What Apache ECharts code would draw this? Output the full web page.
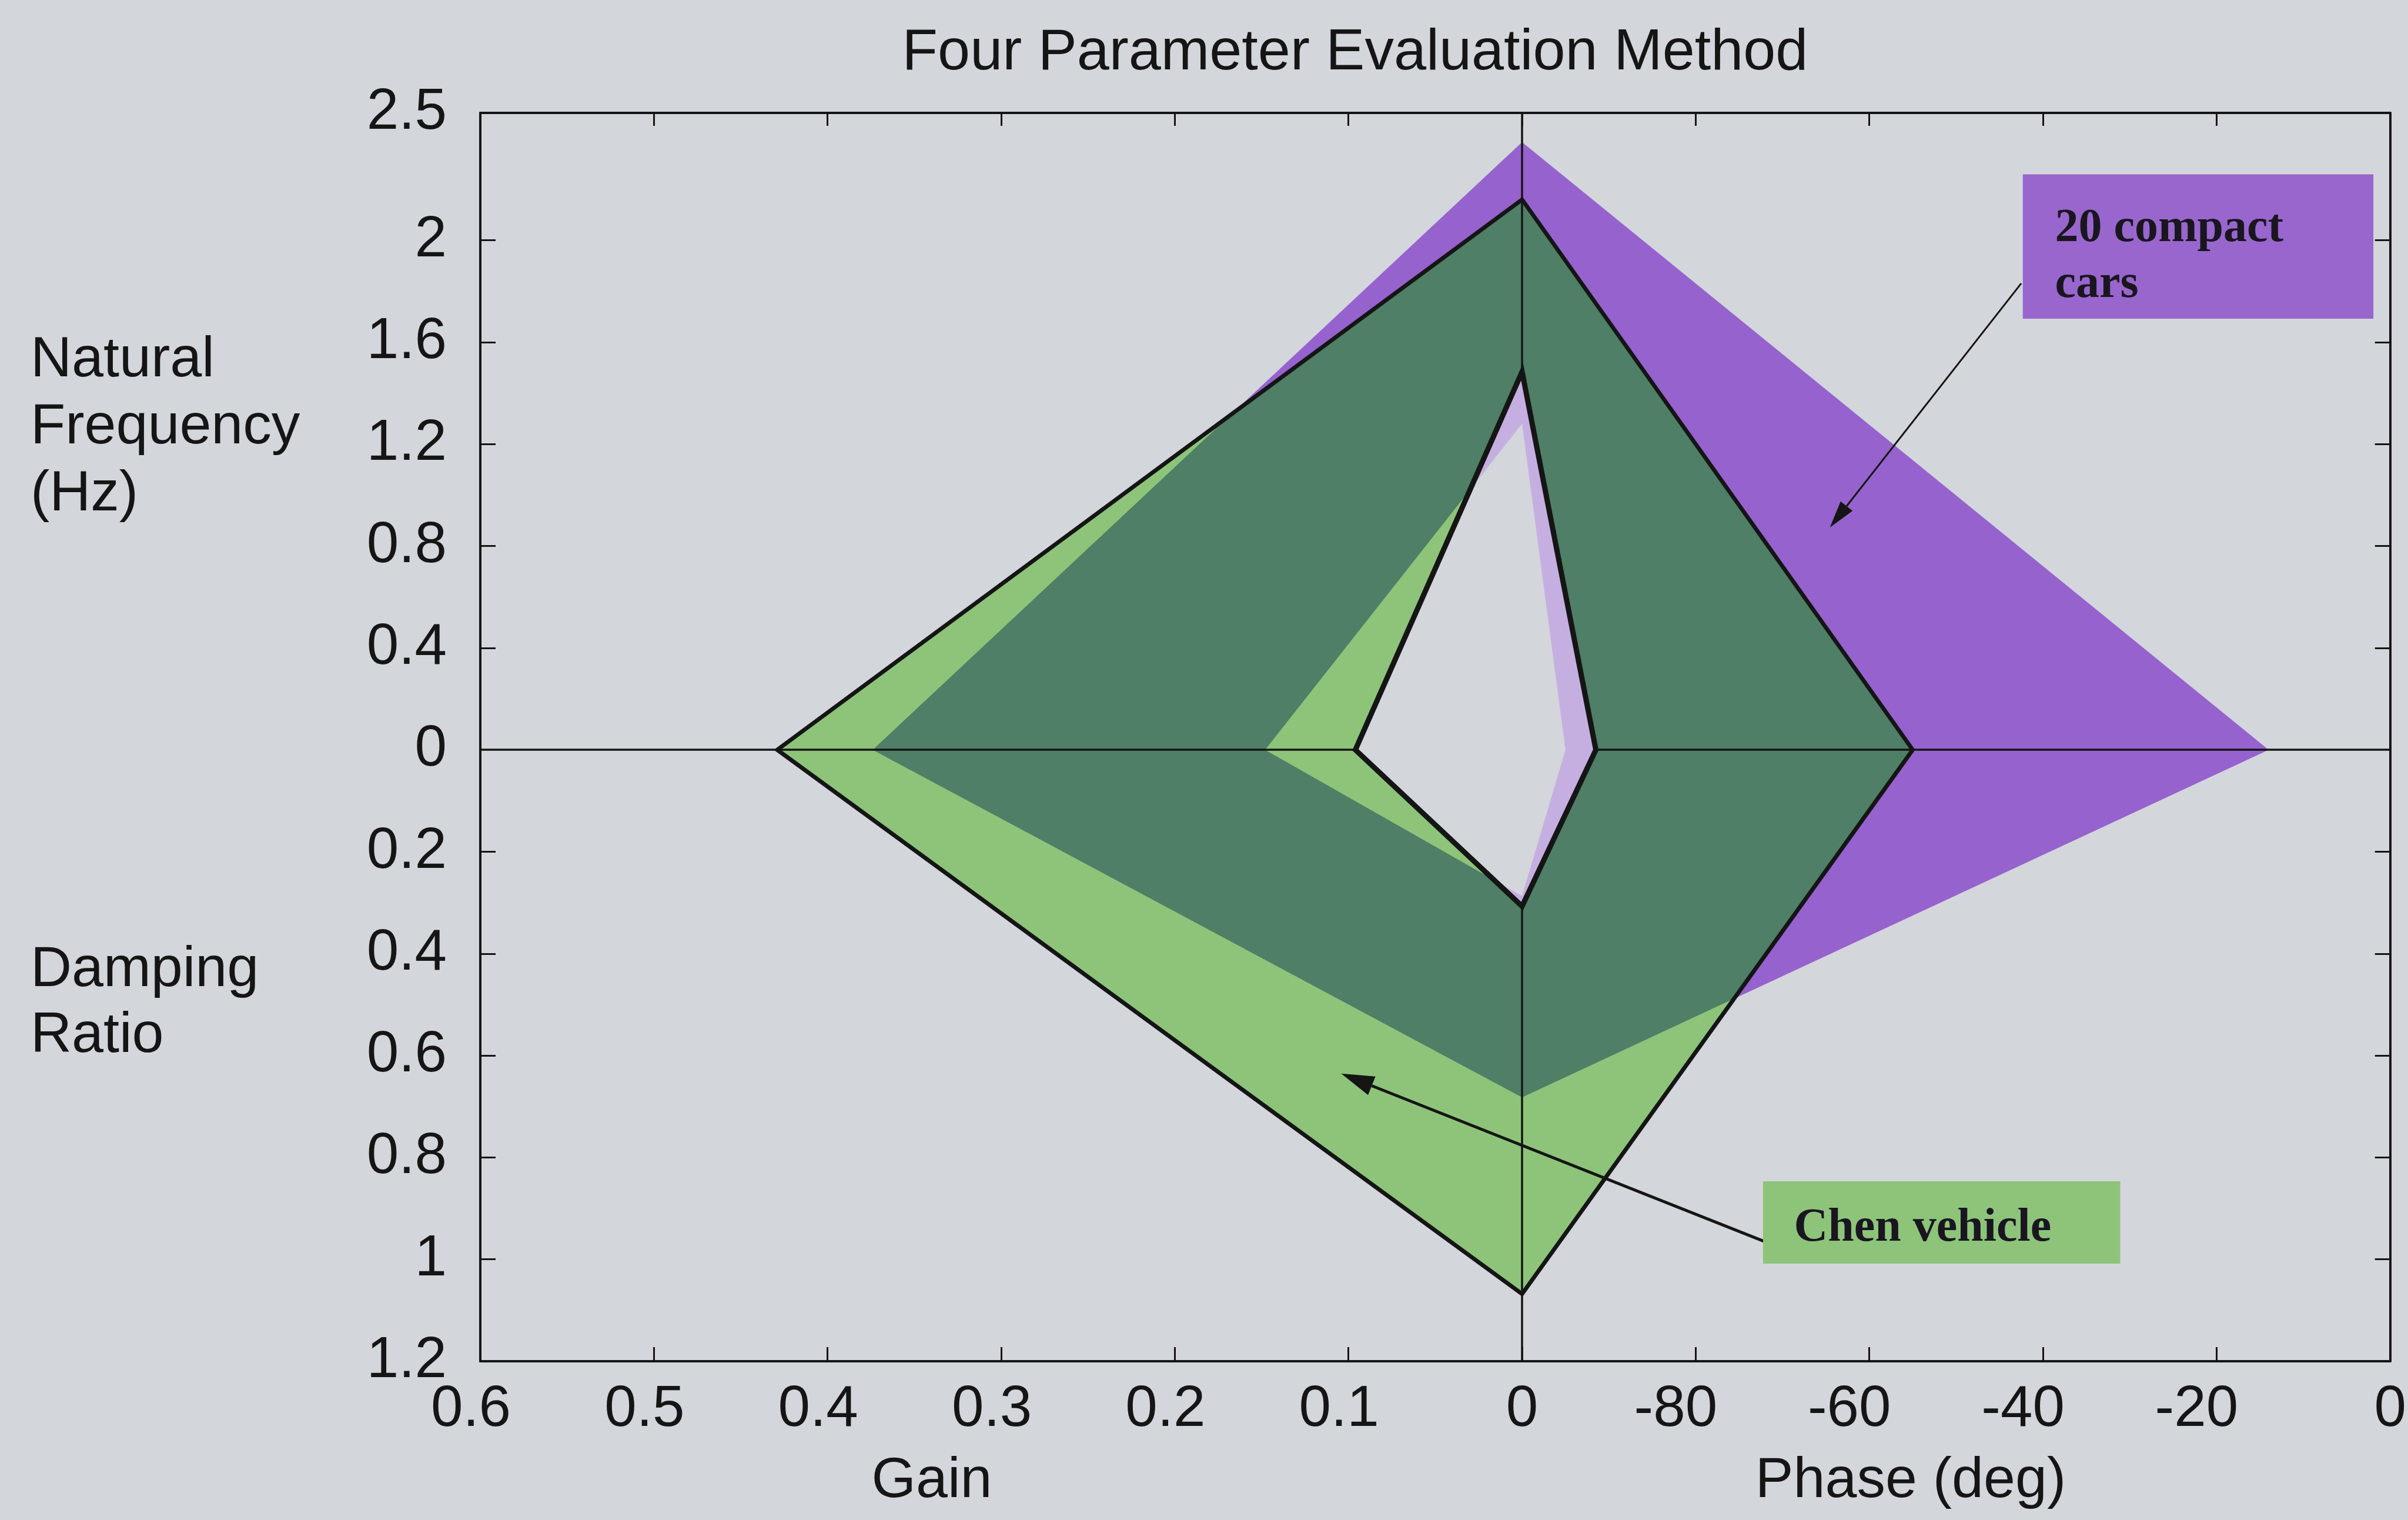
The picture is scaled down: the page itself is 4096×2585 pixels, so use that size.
<!DOCTYPE html>
<html>
<head>
<meta charset="utf-8">
<title>Four Parameter Evaluation Method</title>
<script src="https://cdn.jsdelivr.net/npm/echarts@6.0.0/dist/echarts.min.js"></script>
<style>
html, body { margin: 0; padding: 0; background: #D3D6DB; }
#fourParamDiv { width: 4096px; height: 2585px; }
</style>
</head>
<body>
<div id="fourParamDiv"></div>
<script>
// one diamond per outline: gain (left), natural frequency (top), phase (right), damping (bottom)
var shapeNames = ['compact cars outer', 'compact cars inner', 'Chen vehicle outer', 'Chen vehicle inner'];
var gainValues = [0.374, 0.148, 0.429, 0.096];
var freqValues = [2.385, 1.28, 2.16, 1.484];
var phaseValues = [-14, -95, -55, -91.5];
var dampingValues = [0.682, 0.287, 1.068, 0.307];

// tick labels
var gainTicks = [0.6, 0.5, 0.4, 0.3, 0.2, 0.1, 0];
var phaseTicks = [-80, -60, -40, -20, 0];
var freqTicks = [0, 0.4, 0.8, 1.2, 1.6, 2, 2.5];
var dampingTicks = [0.2, 0.4, 0.6, 0.8, 1, 1.2];

var bgColor = '#D3D6DB';
var purple = '#9662CE';
var lightGreen = '#8DC47A';
var darkGreen = '#4F7F66';
var lavender = '#C5AFE0';
var ink = '#151515';
var sans = '"Liberation Sans", Arial, sans-serif';

// the chart has four half-axes sharing one plane
function gainToX(g) { return -g * 10; }
function phaseToX(p) { return (p + 100) / 20; }
function freqToY(f) { return f; }
function dampToY(d) { return -2 * d; }

var xLabelMap = {};
gainTicks.forEach(function(g) {
	xLabelMap[gainToX(g).toFixed(2)] = { text: String(g), kind: g === 0 ? 'z' : 'g' };
});
phaseTicks.forEach(function(p) {
	xLabelMap[phaseToX(p).toFixed(2)] = { text: String(p), kind: p === 0 ? 'z' : 'p' };
});
var yLabelMap = {};
freqTicks.forEach(function(f) { yLabelMap[freqToY(f).toFixed(2)] = String(f); });
dampingTicks.forEach(function(d) { yLabelMap[dampToY(d).toFixed(2)] = String(d); });

var xLabelValues = Object.keys(xLabelMap).map(Number);
var yLabelValues = Object.keys(yLabelMap).map(Number);
var yTickValues = yLabelValues.filter(function(v) { return v !== 0 && v !== 2.5 && v !== -2.4; });

function diamond(i) {
	return {
		r : phaseToX(phaseValues[i]),
		t : freqToY(freqValues[i]),
		l : gainToX(gainValues[i]),
		b : dampToY(dampingValues[i])
	};
}

function diamondPoints(d) {
	return [[d.r, 0], [0, d.t], [d.l, 0], [0, d.b]];
}

// crossing of x/a1 + y/b1 = 1 and x/a2 + y/b2 = 1 inside one quadrant
function cross(a1, b1, a2, b2) {
	if ((Math.abs(a1) - Math.abs(a2)) * (Math.abs(b1) - Math.abs(b2)) >= 0) {
		return null;
	}
	var p1 = 1 / a1, q1 = 1 / b1, p2 = 1 / a2, q2 = 1 / b2;
	var det = p1 * q2 - p2 * q1;
	return [(q2 - q1) / det, (p1 - p2) / det];
}

function nearer(a, b) { return Math.abs(a) < Math.abs(b) ? a : b; }

function intersect(A, B) {
	var pts = [];
	function push(p) { if (p) pts.push(p); }
	push([nearer(A.r, B.r), 0]);
	push(cross(A.r, A.t, B.r, B.t));
	push([0, nearer(A.t, B.t)]);
	push(cross(A.l, A.t, B.l, B.t));
	push([nearer(A.l, B.l), 0]);
	push(cross(A.l, A.b, B.l, B.b));
	push([0, nearer(A.b, B.b)]);
	push(cross(A.r, A.b, B.r, B.b));
	return pts;
}

function fillSeries(name, points, color, z) {
	return {
		type : 'custom',
		name : name,
		z : z,
		silent : true,
		data : [[0, 0]],
		renderItem : function(params, api) {
			return {
				type : 'polygon',
				shape : { points : points.map(function(p) { return api.coord(p); }) },
				style : { fill : color }
			};
		}
	};
}

function arrow(p0, p1, headLen, headW, width) {
	var dx = p1[0] - p0[0], dy = p1[1] - p0[1];
	var len = Math.sqrt(dx * dx + dy * dy);
	var ux = dx / len, uy = dy / len;
	var bx = p1[0] - ux * headLen, by = p1[1] - uy * headLen;
	var nx = -uy * headW / 2, ny = ux * headW / 2;
	return [{
		type : 'polyline',
		shape : { points : [p0, [bx, by]] },
		style : { stroke : ink, lineWidth : width, fill : null }
	}, {
		type : 'polygon',
		shape : { points : [p1, [bx + nx, by + ny], [bx - nx, by - ny]] },
		style : { fill : ink }
	}];
}

var compactOuter = diamond(0);
var compactInner = diamond(1);
var chenOuter = diamond(2);
var chenInner = diamond(3);

// annotation boxes (plot units)
var notes = {
	compactBox : [[2.884, 2.259], [4.903, 1.692]],
	compactText : [[3.069, 2.045, '20 compact'], [3.069, 1.825, 'cars']],
	compactArrow : [[2.875, 1.831], [1.773, 0.873]],
	chenBox : [[1.388, -1.694], [3.445, -2.017]],
	chenText : [1.566, -1.880, 'Chen vehicle'],
	chenArrow : [[1.392, -1.929], [-1.042, -1.271]]
};

var serifFont = 'bold 80px "Liberation Serif", "DejaVu Serif", serif';

function boxRect(api, box, color) {
	var a = api.coord(box[0]), b = api.coord(box[1]);
	return {
		type : 'rect',
		shape : { x : Math.min(a[0], b[0]), y : Math.min(a[1], b[1]), width : Math.abs(b[0] - a[0]), height : Math.abs(b[1] - a[1]) },
		style : { fill : color }
	};
}

function noteText(api, t) {
	var p = api.coord([t[0], t[1]]);
	return {
		type : 'text',
		x : p[0],
		y : p[1],
		style : { text : t[2], font : serifFont, fill : '#1a1620', textAlign : 'left', textVerticalAlign : 'middle' }
	};
}

var series = [
	fillSeries('20 compact cars', diamondPoints(compactOuter), purple, 1),
	fillSeries('Chen vehicle', diamondPoints(chenOuter), lightGreen, 2),
	fillSeries('overlap', intersect(compactOuter, chenOuter), darkGreen, 3),
	fillSeries('compact inner', diamondPoints(compactInner), lightGreen, 4),
	fillSeries('Chen inner', diamondPoints(chenInner), lavender, 5),
	fillSeries('hole', intersect(compactInner, chenInner), bgColor, 6),
	{
		type : 'custom',
		name : 'outlines',
		z : 8,
		silent : true,
		data : [[0, 0]],
		renderItem : function(params, api) {
			var outer = diamondPoints(chenOuter).map(function(p) { return api.coord(p); });
			var inner = diamondPoints(chenInner).map(function(p) { return api.coord(p); });
			return {
				type : 'group',
				children : [{
					type : 'polygon',
					shape : { points : outer },
					style : { fill : null, stroke : ink, lineWidth : 7, lineJoin : 'miter' }
				}, {
					type : 'polygon',
					shape : { points : inner },
					style : { fill : null, stroke : ink, lineWidth : 9, lineJoin : 'miter' }
				}]
			};
		},
		markLine : {
			silent : true,
			symbol : 'none',
			label : { show : false },
			lineStyle : { color : ink, width : 3.5, type : 'solid' },
			data : [{ xAxis : 0 }, { yAxis : 0 }]
		}
	},
	{
		type : 'custom',
		name : 'notes',
		z : 12,
		silent : true,
		data : [[0, 0]],
		renderItem : function(params, api) {
			var kids = [];
			kids = kids.concat(arrow(api.coord(notes.compactArrow[0]), api.coord(notes.compactArrow[1]), 46, 26, 3));
			kids = kids.concat(arrow(api.coord(notes.chenArrow[0]), api.coord(notes.chenArrow[1]), 56, 34, 5));
			kids.push(boxRect(api, notes.compactBox, '#9866CC'));
			kids.push(noteText(api, notes.compactText[0]));
			kids.push(noteText(api, notes.compactText[1]));
			kids.push(boxRect(api, notes.chenBox, lightGreen));
			kids.push(noteText(api, notes.chenText));
			return { type : 'group', children : kids };
		}
	}
];

var axisLineStyle = { show : true, onZero : false, lineStyle : { color : ink, width : 4 } };
var tickStyle = { color : ink, width : 3 };

var option = {
	backgroundColor : bgColor,
	animation : false,
	grid : { left : 817, top : 192, right : 24, bottom : 270, containLabel : false },
	graphic : [{
		type : 'text', x : 2305, y : 91,
		style : { text : 'Four Parameter Evaluation Method', font : '99px ' + sans, fill : ink, textAlign : 'center', textVerticalAlign : 'middle' }
	}, {
		type : 'text', x : 52, y : 556,
		style : { text : 'Natural\nFrequency\n(Hz)', font : '97px ' + sans, lineHeight : 114, fill : ink, textAlign : 'left', textVerticalAlign : 'top' }
	}, {
		type : 'text', x : 52, y : 1594,
		style : { text : 'Damping\nRatio', font : '97px ' + sans, lineHeight : 112, fill : ink, textAlign : 'left', textVerticalAlign : 'top' }
	}, {
		type : 'text', x : 1585, y : 2519,
		style : { text : 'Gain', font : '97px ' + sans, fill : ink, textAlign : 'center', textVerticalAlign : 'middle' }
	}, {
		type : 'text', x : 3250, y : 2519,
		style : { text : 'Phase (deg)', font : '97px ' + sans, fill : ink, textAlign : 'center', textVerticalAlign : 'middle' }
	}],
	xAxis : [{
		type : 'value',
		position : 'bottom',
		min : -6,
		max : 5,
		interval : 1,
		axisLine : axisLineStyle,
		axisTick : { show : true, inside : true, length : 24, lineStyle : tickStyle },
		splitLine : { show : false },
		axisLabel : {
			margin : 34,
			customValues : xLabelValues,
			fontFamily : sans,
			fontSize : 98,
			color : ink,
			formatter : function(value) {
				var item = xLabelMap[value.toFixed(2)];
				return item ? '{' + item.kind + '|' + item.text + '}' : '';
			},
			rich : {
				g : { fontFamily : sans, fontSize : 98, color : ink, padding : [0, 32, 0, 0] },
				p : { fontFamily : sans, fontSize : 98, color : ink, padding : [0, 68, 0, 0] },
				z : { fontFamily : sans, fontSize : 98, color : ink }
			}
		}
	}, {
		type : 'value',
		position : 'top',
		min : -6,
		max : 5,
		interval : 1,
		axisLine : axisLineStyle,
		axisTick : { show : true, inside : true, length : 22, lineStyle : tickStyle },
		splitLine : { show : false },
		axisLabel : { show : false }
	}],
	yAxis : [{
		type : 'value',
		position : 'left',
		min : -2.4,
		max : 2.5,
		axisLine : axisLineStyle,
		axisTick : { show : true, inside : true, length : 26, customValues : yTickValues, lineStyle : tickStyle },
		splitLine : { show : false },
		axisLabel : {
			margin : 57,
			customValues : yLabelValues,
			fontFamily : sans,
			fontSize : 98,
			color : ink,
			formatter : function(value) {
				var t = yLabelMap[value.toFixed(2)];
				return t === undefined ? '' : t;
			}
		}
	}, {
		type : 'value',
		position : 'right',
		min : -2.4,
		max : 2.5,
		axisLine : axisLineStyle,
		axisTick : { show : true, inside : true, length : 26, customValues : yTickValues, lineStyle : tickStyle },
		splitLine : { show : false },
		axisLabel : { show : false }
	}],
	series : series
};

var fourParamChart = echarts.init(document.getElementById('fourParamDiv'));
fourParamChart.setOption(option);
</script>
</body>
</html>
